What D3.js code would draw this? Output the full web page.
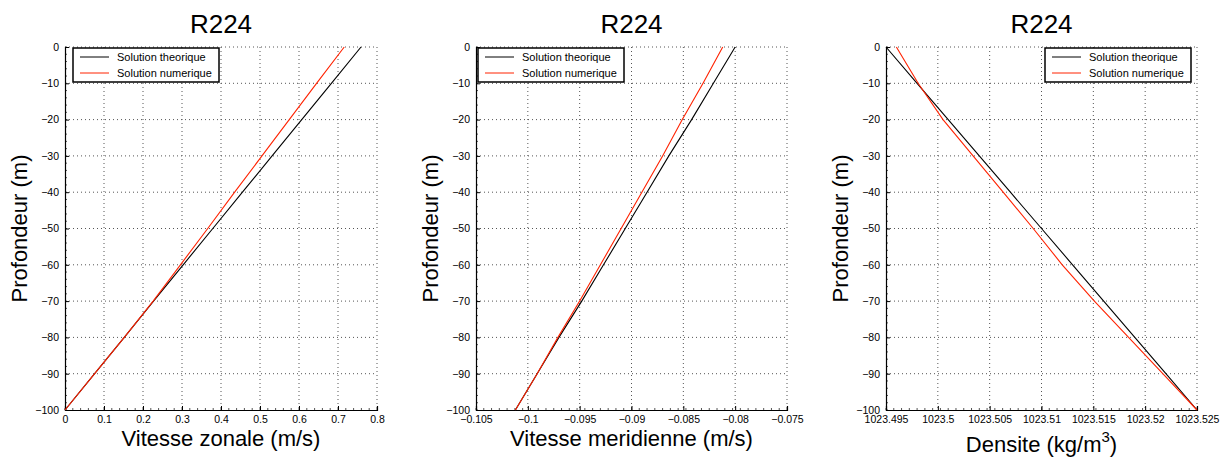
<!DOCTYPE html>
<html>
<head>
  <meta charset="utf-8">
  <script src="https://cdn.jsdelivr.net/npm/d3@7"></script>
  <style>
body { margin: 0; background: #fff; }
svg { font-family: "Liberation Sans", Arial, sans-serif; }
.grid line { stroke: #555; stroke-width: 1; stroke-dasharray: 1,3; }
.axis path, .axis line { stroke: #000; }
.axis text { font-size: 10.5px; fill: #000; }
.curve { fill: none; stroke-width: 1.1; }
.legend rect { fill: #fff; stroke: #000; stroke-width: 1.5; }
.legend text { font-size: 11px; }
  </style>
</head>
<body>
<svg width="1223" height="459"></svg>
<script>

// depth levels (m)
const depth = [0, -10, -20, -30, -40, -50, -60, -70, -80, -90, -100];

// Vitesse zonale (m/s)
const zonalTheo = [0.759, 0.683, 0.607, 0.531, 0.455, 0.379, 0.303, 0.227, 0.152, 0.076, 0];
const zonalNum  = [0.716, 0.645, 0.575, 0.505, 0.435, 0.366, 0.296, 0.226, 0.152, 0.076, 0];

// Vitesse meridienne (m/s)
const meridTheo = [-0.0800, -0.0821, -0.0842, -0.0864, -0.0885, -0.0906, -0.0927, -0.0948, -0.0970, -0.0991, -0.1012];
const meridNum  = [-0.0812, -0.0831, -0.0851, -0.0870, -0.0890, -0.0910, -0.0930, -0.0950, -0.0971, -0.0991, -0.1012];

// Densite (kg/m3)
const densTheo = [1023.495, 1023.498, 1023.501, 1023.504, 1023.507, 1023.510, 1023.513, 1023.516, 1023.519, 1023.522, 1023.525];
const densNum  = [1023.4960, 1023.4981, 1023.5005, 1023.5034, 1023.5063, 1023.5092, 1023.5120, 1023.5151, 1023.5184, 1023.5217, 1023.525];

const yTicks = [0, -10, -20, -30, -40, -50, -60, -70, -80, -90, -100];
const zonalTicks = [0, 0.1, 0.2, 0.3, 0.4, 0.5, 0.6, 0.7, 0.8];
const meridTicks = [-0.105, -0.1, -0.095, -0.09, -0.085, -0.08, -0.075];
const densTicks = [1023.495, 1023.5, 1023.505, 1023.51, 1023.515, 1023.52, 1023.525];

const seriesNames = ["Solution theorique", "Solution numerique"];
const seriesColors = ["#000", "#ff2200"];

const minus = d => String(d).replace("-", "\u2212");

const panels = [
  {left: 65, right: 377, xdom: [0, 0.8], ticks: zonalTicks, theo: zonalTheo, num: zonalNum,
   xlabel: "Vitesse zonale (m/s)", labelY: 446, legendX: 73, fmt: d => String(d)},
  {left: 476, right: 787, xdom: [-0.105, -0.075], ticks: meridTicks, theo: meridTheo, num: meridNum,
   xlabel: "Vitesse meridienne (m/s)", labelY: 446, legendX: 478, fmt: minus},
  {left: 886, right: 1197, xdom: [1023.495, 1023.525], ticks: densTicks, theo: densTheo, num: densNum,
   xlabel: "Densite (kg/m", sup: "3", labelY: 452, legendX: 1045, fmt: d => String(d)}
];

const plotTop = 47, plotBottom = 410;
const svg = d3.select("svg");

panels.forEach(p => {
  const x = d3.scaleLinear().domain(p.xdom).range([p.left, p.right]);
  const y = d3.scaleLinear().domain([-100, 0]).range([plotBottom, plotTop]);
  const g = svg.append("g");

  // grid
  const grid = g.append("g").attr("class", "grid");
  grid.selectAll(".gx").data(p.ticks.slice(1)).enter().append("line")
      .attr("x1", d => x(d)).attr("x2", d => x(d))
      .attr("y1", plotTop).attr("y2", plotBottom);
  grid.selectAll(".gy").data(yTicks.slice(0, -1)).enter().append("line")
      .attr("x1", p.left).attr("x2", p.right)
      .attr("y1", d => y(d)).attr("y2", d => y(d));

  // minor ticks
  const minorY = d3.range(-100, 1, 2);
  g.append("g").selectAll("line").data(minorY).enter().append("line")
      .attr("x1", p.left).attr("x2", p.left + 2)
      .attr("y1", d => y(d)).attr("y2", d => y(d)).attr("stroke", "#555");
  const step = (p.xdom[1] - p.xdom[0]) / 40;
  const minorX = d3.range(0, 41).map(i => p.xdom[0] + i * step);
  g.append("g").selectAll("line").data(minorX).enter().append("line")
      .attr("x1", d => x(d)).attr("x2", d => x(d))
      .attr("y1", plotBottom).attr("y2", plotBottom - 2).attr("stroke", "#555");

  // axes
  g.append("g").attr("class", "axis")
      .attr("transform", `translate(0,${plotBottom})`)
      .call(d3.axisBottom(x).tickValues(p.ticks).tickSize(-4).tickPadding(6).tickFormat(p.fmt));
  g.append("g").attr("class", "axis")
      .attr("transform", `translate(${p.left},0)`)
      .call(d3.axisLeft(y).tickValues(yTicks).tickSize(-4).tickPadding(6).tickFormat(minus));
  g.selectAll(".axis .domain").attr("stroke-width", 1.2);

  // curves
  const line = d3.line().x(d => x(d[0])).y(d => y(d[1]));
  [p.theo, p.num].forEach((vals, i) => {
    g.append("path").attr("class", "curve")
        .attr("stroke", seriesColors[i])
        .attr("d", line(vals.map((v, k) => [v, depth[k]])));
  });

  // title
  const cx = (p.left + p.right) / 2;
  g.append("text").attr("x", cx).attr("y", 33).attr("text-anchor", "middle")
      .attr("font-size", 26).text("R224");

  // y label
  g.append("text")
      .attr("transform", `translate(${p.left - 38},${(plotTop + plotBottom) / 2}) rotate(-90)`)
      .attr("text-anchor", "middle").attr("font-size", 22).text("Profondeur (m)");

  // x label
  const xl = g.append("text").attr("x", cx).attr("y", p.labelY)
      .attr("text-anchor", "middle").attr("font-size", 22).text(p.xlabel);
  if (p.sup) {
    xl.append("tspan").attr("dy", -10).attr("font-size", 15).text(p.sup);
    xl.append("tspan").attr("dy", 10).text(")");
  }

  // legend
  const lg = g.append("g").attr("class", "legend")
      .attr("transform", `translate(${p.legendX},${plotTop + 1})`);
  lg.append("rect").attr("width", 146).attr("height", 34);
  seriesNames.forEach((name, i) => {
    const ly = 9 + i * 16;
    lg.append("line").attr("x1", 7).attr("x2", 36).attr("y1", ly).attr("y2", ly)
        .attr("stroke", seriesColors[i]).attr("stroke-width", 1);
    lg.append("text").attr("x", 44).attr("y", ly + 4).text(name);
  });
});
</script>
</body>
</html>
